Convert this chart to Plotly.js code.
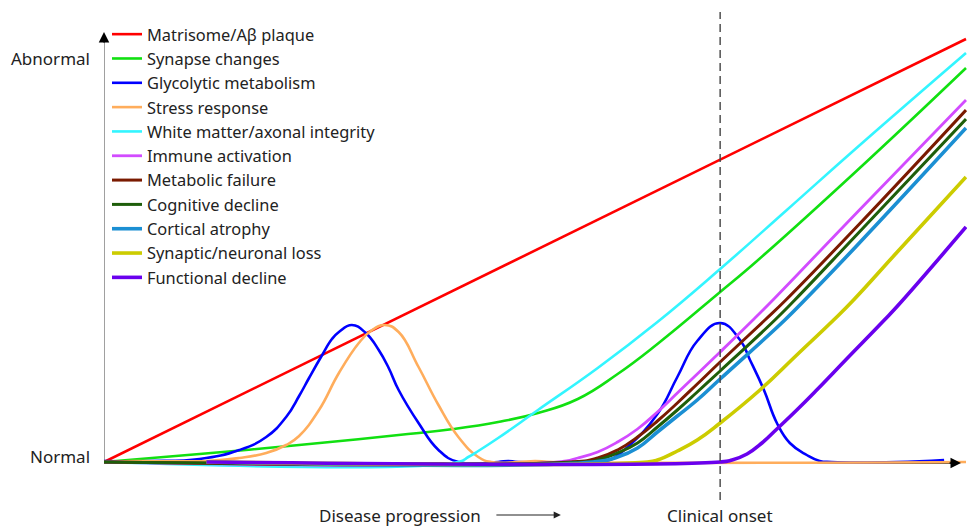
<!DOCTYPE html>
<html>
<head>
<meta charset="utf-8">
<script src="https://cdn.plot.ly/plotly-3.0.1.min.js"></script>
<style>html,body{margin:0;padding:0;background:#fff;}#chart{width:971px;height:526px;}</style>
</head>
<body>
<div id="chart"></div>
<script>
// ---- data (x: disease progression, y: abnormality; 0 = normal) ----
const seriesNames = ["Matrisome/Aβ plaque","Synapse changes","Glycolytic metabolism","Stress response","White matter/axonal integrity","Immune activation","Metabolic failure","Cognitive decline","Cortical atrophy","Synaptic/neuronal loss","Functional decline"];
const seriesColors = ["#ff0000","#11e011","#0000ff","#ffad5c","#33f5ff","#d24bff","#7a1a00","#1e5e0a","#1b8fd3","#cccc00","#6a00ee"];

const plaqueX = [0, 866];
const plaqueY = [0, 423];

const synapseX = [0, 96, 196, 296, 351, 396, 436, 476, 516, 556, 619, 656, 756, 866];
const synapseY = [0, 8, 17, 27, 33, 40, 49, 63, 88, 118, 170, 201, 291, 394];

const glycoX = [0, 46, 96, 136, 163, 183, 196, 206, 218, 229, 236, 249, 263, 276, 286, 296, 316, 336, 356, 396, 406, 416, 496, 508, 526, 556, 576, 596, 619, 639, 649, 663, 676, 689, 706, 719, 731, 796, 844];
const glycoY = [1, 1, 3, 12, 25, 45, 66, 84, 105, 123, 130, 137, 129, 112, 94, 72, 39, 12, 0, 0, 1, 0, 0, 2, 15, 48, 85, 121, 139, 122, 102, 72, 39, 19, 7, 1, 0, 0, 2];

const stressX = [0, 29, 103, 136, 163, 183, 196, 216, 236, 256, 268, 282, 296, 316, 336, 356, 376, 389, 416, 433, 451, 866];
const stressY = [0, 1, 1, 4, 9, 17, 26, 52, 89, 119, 131, 137, 130, 95, 57, 25, 5, 0, 0, 1, 0, 0];

const whiteX = [0, 356, 366, 376, 396, 436, 496, 556, 619, 686, 756, 866];
const whiteY = [0, 0, 5, 11, 24, 52, 94, 140, 193, 252, 314, 409];

const immuneX = [0, 456, 476, 496, 516, 536, 556, 576, 596, 619, 653, 674, 756, 866];
const immuneY = [0, 0, 4, 10, 20, 33, 50, 69, 88, 110, 143, 164, 249, 362];

const metabX = [0, 468, 496, 516, 536, 556, 576, 596, 619, 664, 685, 756, 866];
const metabY = [0, 0, 4, 12, 25, 41, 59, 78, 100, 142, 162, 235, 352];

const cognX = [0, 481, 496, 516, 536, 556, 576, 596, 619, 674, 694, 756, 866];
const cognY = [0, 0, 2, 9, 19, 35, 52, 70, 91, 142, 162, 227, 343];

const cortX = [103, 491, 516, 536, 556, 576, 596, 619, 684, 704, 756, 866];
const cortY = [0, 0, 5, 14, 30, 46, 62, 83, 142, 162, 216, 334];

const neurX = [103, 546, 556, 576, 596, 619, 659, 696, 733, 753, 796, 866];
const neurY = [0, 0, 2, 11, 22, 39, 72, 107, 142, 162, 209, 285];

const funcX = [103, 619, 631, 646, 661, 676, 696, 716, 746, 783, 799, 866];
const funcY = [0, 0, 2, 8, 19, 33, 52, 72, 103, 141, 158, 235];

const clinicalOnset = 619;
const normalLevel = 6, abnormalLevel = 404;
const xLabels = ["Disease progression", "Clinical onset"];
const yLabels = ["Normal", "Abnormal"];

// ---- build ----
const xs = [plaqueX, synapseX, glycoX, stressX, whiteX, immuneX, metabX, cognX, cortX, neurX, funcX];
const ys = [plaqueY, synapseY, glycoY, stressY, whiteY, immuneY, metabY, cognY, cortY, neurY, funcY];
const widths = [2.6, 2.6, 2.6, 2.6, 2.6, 2.8, 3, 3, 3.6, 3.6, 3.6];

const traces = seriesNames.map((n, i) => ({
  type: "scatter", mode: "lines", name: n,
  x: xs[i], y: ys[i],
  line: {color: seriesColors[i], width: widths[i], shape: i === 0 ? "linear" : "spline", smoothing: 1.3},
  hoverinfo: "skip"
}));

const xr = [0, 867], yr = [-38, 450];
const pxX = v => (v - xr[0]) / (xr[1] - xr[0]);
const pxY = v => (v - yr[0]) / (yr[1] - yr[0]);
const FONT = "Noto Sans, Open Sans, sans-serif";
const labelFont = {family: FONT, size: 17, color: "#222"};
const belowY = pxY(-53);

const layout = {
  width: 971, height: 526,
  margin: {l: 104, r: 4, t: 12, b: 26},
  paper_bgcolor: "#fff", plot_bgcolor: "#fff",
  font: {family: FONT, size: 17, color: "#222"},
  xaxis: {range: xr, visible: false, fixedrange: true},
  yaxis: {range: yr, visible: false, fixedrange: true},
  showlegend: true,
  legend: {x: pxX(3), xanchor: "left", y: pxY(445), yanchor: "top", bgcolor: "rgba(0,0,0,0)",
           font: {family: FONT, size: 16.4, color: "#222"}, traceorder: "normal"},
  shapes: [
    {type: "line", xref: "x", yref: "y", x0: 0, x1: 0, y0: 0, y1: 424, line: {color: "#888", width: 1.6}, layer: "below"},
    {type: "line", xref: "x", yref: "y", x0: 0, x1: 852, y0: -1, y1: -1, line: {color: "#000", width: 1.5}, layer: "below"},
    {type: "line", xref: "x", yref: "y", x0: clinicalOnset, x1: clinicalOnset, y0: yr[0], y1: yr[1], line: {color: "#444", width: 1.4, dash: "8px,5px"}, layer: "above"}
  ],
  annotations: [
    {xref: "x", yref: "y", x: 0, y: 430, axref: "x", ayref: "y", ax: 0, ay: 418, text: "", showarrow: true, arrowhead: 2, arrowsize: 1.4, arrowwidth: 1.5, arrowcolor: "#000"},
    {xref: "x", yref: "y", x: 861, y: -1, axref: "x", ayref: "y", ax: 848, ay: -1, text: "", showarrow: true, arrowhead: 2, arrowsize: 1.4, arrowwidth: 1.5, arrowcolor: "#000"},
    {xref: "paper", yref: "y", x: pxX(-12), y: abnormalLevel, xanchor: "right", yanchor: "middle", text: yLabels[1], showarrow: false, font: labelFont},
    {xref: "paper", yref: "y", x: pxX(-12), y: normalLevel, xanchor: "right", yanchor: "middle", text: yLabels[0], showarrow: false, font: labelFont},
    {xref: "x", yref: "paper", x: 381, y: belowY, xanchor: "right", yanchor: "middle", text: xLabels[0], showarrow: false, font: labelFont},
    {xref: "x", yref: "paper", x: 459, y: belowY, ax: -66, ay: 0, text: "", showarrow: true, arrowhead: 2, arrowsize: 1.2, arrowwidth: 1.2, arrowcolor: "#222"},
    {xref: "x", yref: "paper", x: clinicalOnset, y: belowY, xanchor: "center", yanchor: "middle", text: xLabels[1], showarrow: false, font: labelFont}
  ]
};

Plotly.newPlot("chart", traces, layout, {displayModeBar: false, staticPlot: true});
</script>
</body>
</html>
